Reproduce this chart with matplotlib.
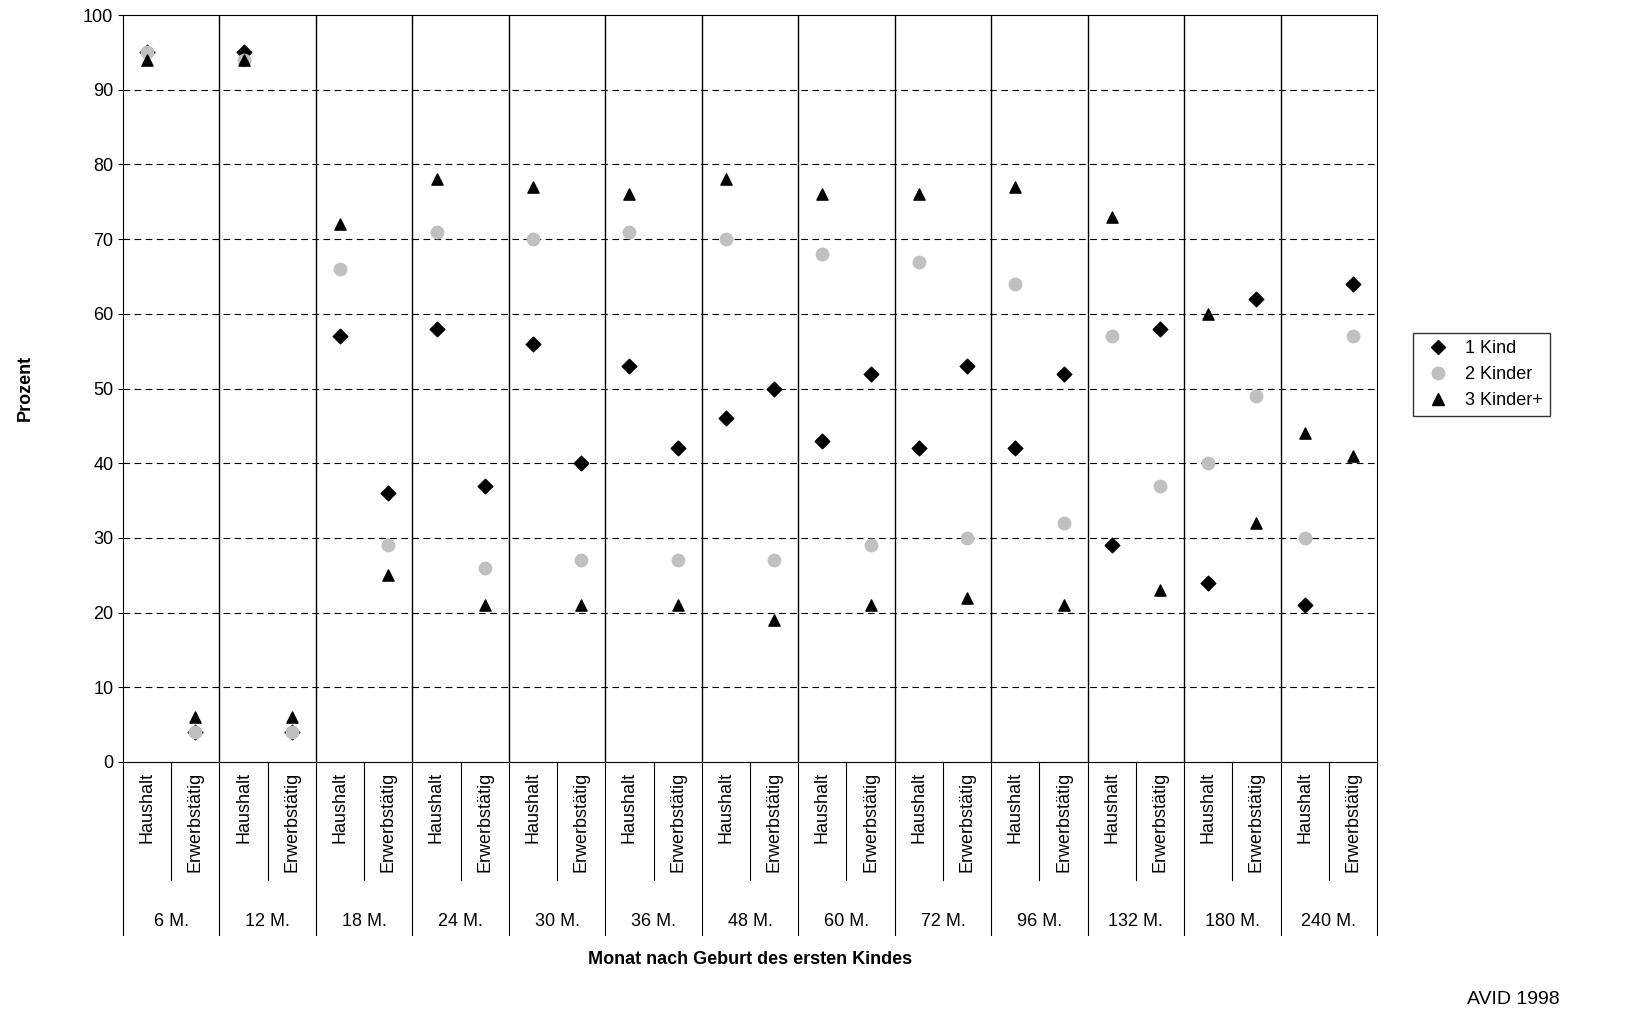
import numpy as np
import matplotlib.pyplot as plt
from matplotlib.lines import Line2D

plt.rcParams['font.family'] = ['Liberation Sans', 'DejaVu Sans']

groups = ['6 M.', '12 M.', '18 M.', '24 M.', '30 M.', '36 M.', '48 M.',
          '60 M.', '72 M.', '96 M.', '132 M.', '180 M.', '240 M.']
subs = ['Haushalt', 'Erwerbstätig']

# values per group: Haushalt, Erwerbstätig
kind1 = [95, 4, 95, 4, 57, 36, 58, 37, 56, 40, 53, 42, 46, 50,
         43, 52, 42, 53, 42, 52, 29, 58, 24, 62, 21, 64]
kind2 = [95, 4, 94, 4, 66, 29, 71, 26, 70, 27, 71, 27, 70, 27,
         68, 29, 67, 30, 64, 32, 57, 37, 40, 49, 30, 57]
kind3 = [94, 6, 94, 6, 72, 25, 78, 21, 77, 21, 76, 21, 78, 19,
         76, 21, 76, 22, 77, 21, 73, 23, 60, 32, 44, 41]

n = len(kind1)
x = np.arange(n)

fig = plt.figure(figsize=(16.5, 10.23), dpi=100)
ax = fig.add_axes([123 / 1650, 1 - 762 / 1023, 1254 / 1650, 747 / 1023])

ax.scatter(x, kind1, marker='D', s=55, color='black', zorder=3, label='1 Kind')
ax.scatter(x, kind2, marker='o', s=80, color='#c0c0c0', zorder=4, label='2 Kinder')
ax.scatter(x, kind3, marker='^', s=65, color='black', zorder=5, label='3 Kinder+')

ax.set_xlim(-0.5, n - 0.5)
ax.set_ylim(0, 100)
ax.set_yticks(range(0, 101, 10))
ax.tick_params(axis='y', labelsize=13)
ax.set_xticks([])
for y in range(10, 100, 10):
    ax.axhline(y, color='black', linestyle=(0, (6, 4)), linewidth=0.8, zorder=1)
for i in range(1, len(groups)):
    ax.axvline(2 * i - 0.5, color='black', linewidth=1, zorder=2)

trans = ax.get_xaxis_transform()
for i in range(n):
    ax.text(x[i], -0.013, subs[i % 2], rotation=90, ha='center', va='top',
            fontsize=13, transform=trans)
for i in range(n + 1):
    yb = -0.2316 if i % 2 == 0 else -0.158
    ax.plot([i - 0.5, i - 0.5], [0, yb], color='black', linewidth=0.8,
            transform=trans, clip_on=False)
for j, g in enumerate(groups):
    ax.text(2 * j + 0.5, -0.214, g, ha='center', va='center', fontsize=13,
            transform=trans)

ax.text(0.5, -0.265, 'Monat nach Geburt des ersten Kindes', ha='center',
        va='center', fontsize=13, fontweight='bold', transform=ax.transAxes)
fig.text(25 / 1650, 1 - 388 / 1023, 'Prozent', rotation=90, ha='center',
         va='center', fontsize=13, fontweight='bold')
fig.text(1467 / 1650, 1 - 1000 / 1023, 'AVID 1998', ha='left', va='center',
         fontsize=14)

handles = [Line2D([], [], marker='D', color='black', linestyle='none', markersize=7),
           Line2D([], [], marker='o', color='#c0c0c0', linestyle='none', markersize=9),
           Line2D([], [], marker='^', color='black', linestyle='none', markersize=8)]
fig.legend(handles, ['1 Kind', '2 Kinder', '3 Kinder+'], loc='upper left',
           bbox_to_anchor=(1413 / 1650, 1 - 333 / 1023), fontsize=13,
           frameon=True, fancybox=False, edgecolor='black', borderaxespad=0,
           handletextpad=0.5, labelspacing=0.5, borderpad=0.4)

fig.savefig('out.png', dpi=100)
